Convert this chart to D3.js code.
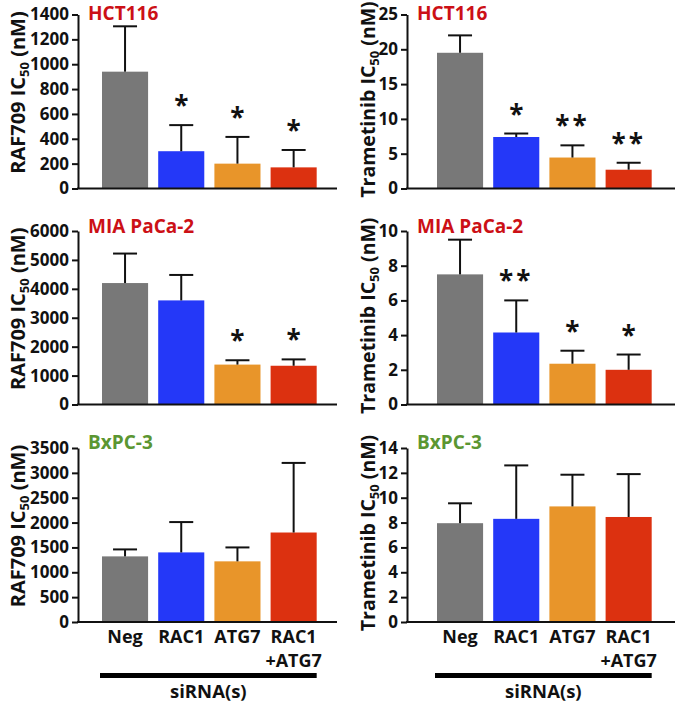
<!DOCTYPE html>
<html>
<head>
<meta charset="utf-8">
<script src="https://cdn.jsdelivr.net/npm/d3@7"></script>
<style>
  body { margin: 0; background: #fff; }
  svg { display: block; font-family: "Open Sans", "Liberation Sans", sans-serif; font-weight: 700; }
</style>
</head>
<body>
<div id="chart"></div>
<script>
// --- DATEN ---
const groups = ["Neg", "RAC1", "ATG7", "RAC1+ATG7"];
const groupColors = ["#787878", "#2438f8", "#e8952a", "#dc3110"];

const hctRafMean = [940, 300, 200, 170];
const hctRafErr = [365, 210, 215, 140];
const hctRafStars = ["", "*", "*", "*"];

const hctTramMean = [19.5, 7.4, 4.45, 2.7];
const hctTramErr = [2.5, 0.5, 1.75, 1.0];
const hctTramStars = ["", "*", "**", "**"];

const miaRafMean = [4200, 3600, 1380, 1340];
const miaRafErr = [1020, 880, 150, 220];
const miaRafStars = ["", "", "*", "*"];

const miaTramMean = [7.5, 4.15, 2.35, 2.0];
const miaTramErr = [2.0, 1.85, 0.75, 0.88];
const miaTramStars = ["", "**", "*", "*"];

const bxRafMean = [1320, 1400, 1220, 1800];
const bxRafErr = [140, 610, 280, 1400];
const bxRafStars = ["", "", "", ""];

const bxTramMean = [7.95, 8.3, 9.3, 8.45];
const bxTramErr = [1.6, 4.3, 2.55, 3.45];
const bxTramStars = ["", "", "", ""];

const cellLines = ["HCT116", "MIA PaCa-2", "BxPC-3"];
const cellColors = ["#cc1016", "#cc1016", "#5b9632"];
const drugs = ["RAF709", "Trametinib"];
const rafMax = [1400, 6000, 3500];
const rafStep = [200, 1000, 500];
const tramMax = [25, 10, 14];
const tramStep = [5, 2, 2];

// --- LAYOUT ---
const width = 677, height = 703;
const columns = [
  { axisX: 78, axisEnd: 337, barStart: 102, labelX: 25, labelShift: -9, labelSize: 20 },
  { axisX: 407, axisEnd: 675, barStart: 437, labelX: 375, labelShift: -2, labelSize: 19.5 }
];
const rows = [
  { top: 14.5, zero: 188.5, titleY: 20 },
  { top: 231, zero: 404.5, titleY: 233 },
  { top: 448, zero: 622, titleY: 449 }
];

const panels = [
  { r: 0, c: 0, mean: hctRafMean, err: hctRafErr, stars: hctRafStars },
  { r: 0, c: 1, mean: hctTramMean, err: hctTramErr, stars: hctTramStars },
  { r: 1, c: 0, mean: miaRafMean, err: miaRafErr, stars: miaRafStars },
  { r: 1, c: 1, mean: miaTramMean, err: miaTramErr, stars: miaTramStars },
  { r: 2, c: 0, mean: bxRafMean, err: bxRafErr, stars: bxRafStars },
  { r: 2, c: 1, mean: bxTramMean, err: bxTramErr, stars: bxTramStars }
];

const svg = d3.select("#chart").append("svg")
  .attr("width", width)
  .attr("height", height);

const fontFam = '"Open Sans", "Liberation Sans", sans-serif';

panels.forEach(p => {
  const col = columns[p.c];
  const row = rows[p.r];
  const maxV = p.c === 0 ? rafMax[p.r] : tramMax[p.r];
  const stepV = p.c === 0 ? rafStep[p.r] : tramStep[p.r];

  const y = d3.scaleLinear().domain([0, maxV]).range([row.zero, row.top]);
  const step = 56.2;
  const x = d3.scaleBand()
    .domain(groups)
    .range([col.barStart - 0.09 * step, col.barStart - 0.09 * step + step * 4])
    .paddingInner(0.18)
    .paddingOuter(0.09);

  const g = svg.append("g");

  // Balken
  g.selectAll("rect.bar")
    .data(groups)
    .join("rect")
    .attr("class", "bar")
    .attr("x", d => x(d))
    .attr("y", (d, i) => y(p.mean[i]))
    .attr("width", x.bandwidth())
    .attr("height", (d, i) => y(0) - y(p.mean[i]))
    .attr("fill", (d, i) => groupColors[i]);

  // Fehlerbalken (nur nach oben)
  const capW = 12;
  groups.forEach((d, i) => {
    const cx = x(d) + x.bandwidth() / 2;
    const top = y(p.mean[i] + p.err[i]);
    g.append("line")
      .attr("x1", cx).attr("x2", cx)
      .attr("y1", y(p.mean[i])).attr("y2", top)
      .attr("stroke", "#111").attr("stroke-width", 2);
    g.append("line")
      .attr("x1", cx - capW).attr("x2", cx + capW)
      .attr("y1", top).attr("y2", top)
      .attr("stroke", "#111").attr("stroke-width", 2);
    if (p.stars[i]) {
      g.append("text")
        .attr("x", cx)
        .attr("y", top - 10)
        .attr("text-anchor", "middle")
        .attr("font-size", 26)
        .attr("letter-spacing", p.stars[i].length > 1 ? 3 : 0)
        .attr("fill", "#111")
        .text(p.stars[i]);
    }
  });

  // Y-Achse
  const yAxis = d3.axisLeft(y)
    .tickValues(d3.range(0, maxV + stepV / 2, stepV))
    .tickFormat(d3.format("d"))
    .tickSize(6)
    .tickSizeOuter(0)
    .tickPadding(3);
  const ag = g.append("g")
    .attr("transform", `translate(${col.axisX},0)`)
    .call(yAxis)
    .attr("font-family", fontFam)
    .attr("font-size", 17)
    .attr("font-weight", 700);
  ag.select(".domain").attr("stroke", "#111").attr("stroke-width", 2);
  ag.selectAll(".tick line").attr("stroke", "#111").attr("stroke-width", 2);
  ag.selectAll(".tick text").attr("fill", "#111");

  // X-Achse (Grundlinie)
  g.append("line")
    .attr("x1", col.axisX - 1).attr("x2", col.axisEnd)
    .attr("y1", y(0)).attr("y2", y(0))
    .attr("stroke", "#111").attr("stroke-width", 2);

  // Titel der Zelllinie
  g.append("text")
    .attr("x", col.axisX + 10)
    .attr("y", row.titleY)
    .attr("font-size", 19)
    .attr("fill", cellColors[p.r])
    .text(cellLines[p.r]);

  // Y-Achsenbeschriftung mit Subskript
  const cy = (row.zero + row.top) / 2 + col.labelShift;
  const lab = g.append("text")
    .attr("transform", `translate(${col.labelX},${cy}) rotate(-90)`)
    .attr("text-anchor", "middle")
    .attr("font-size", col.labelSize)
    .attr("fill", "#111");
  lab.append("tspan").text(drugs[p.c] + " IC");
  lab.append("tspan").attr("font-size", 13).attr("dy", 4).text("50");
  lab.append("tspan").attr("dy", -4).text(" (nM)");

  // X-Beschriftungen nur in der unteren Reihe
  if (p.r === 2) {
    groups.forEach((d, i) => {
      const cx = x(d) + x.bandwidth() / 2;
      const parts = d.split("+");
      g.append("text")
        .attr("x", cx).attr("y", 643)
        .attr("text-anchor", "middle")
        .attr("font-size", 18)
        .attr("fill", "#111")
        .text(parts[0]);
      if (parts.length > 1) {
        g.append("text")
          .attr("x", cx).attr("y", 667)
          .attr("text-anchor", "middle")
          .attr("font-size", 18)
          .attr("fill", "#111")
          .text("+" + parts[1]);
      }
    });
    const x0 = x(groups[0]) - 2;
    const x1 = x(groups[groups.length - 1]) + x.bandwidth();
    g.append("rect")
      .attr("x", x0).attr("y", 673)
      .attr("width", x1 - x0).attr("height", 5)
      .attr("fill", "#000");
    g.append("text")
      .attr("x", (x0 + x1) / 2).attr("y", 698)
      .attr("text-anchor", "middle")
      .attr("font-size", 18.5)
      .attr("fill", "#111")
      .text("siRNA(s)");
  }
});
</script>
</body>
</html>
